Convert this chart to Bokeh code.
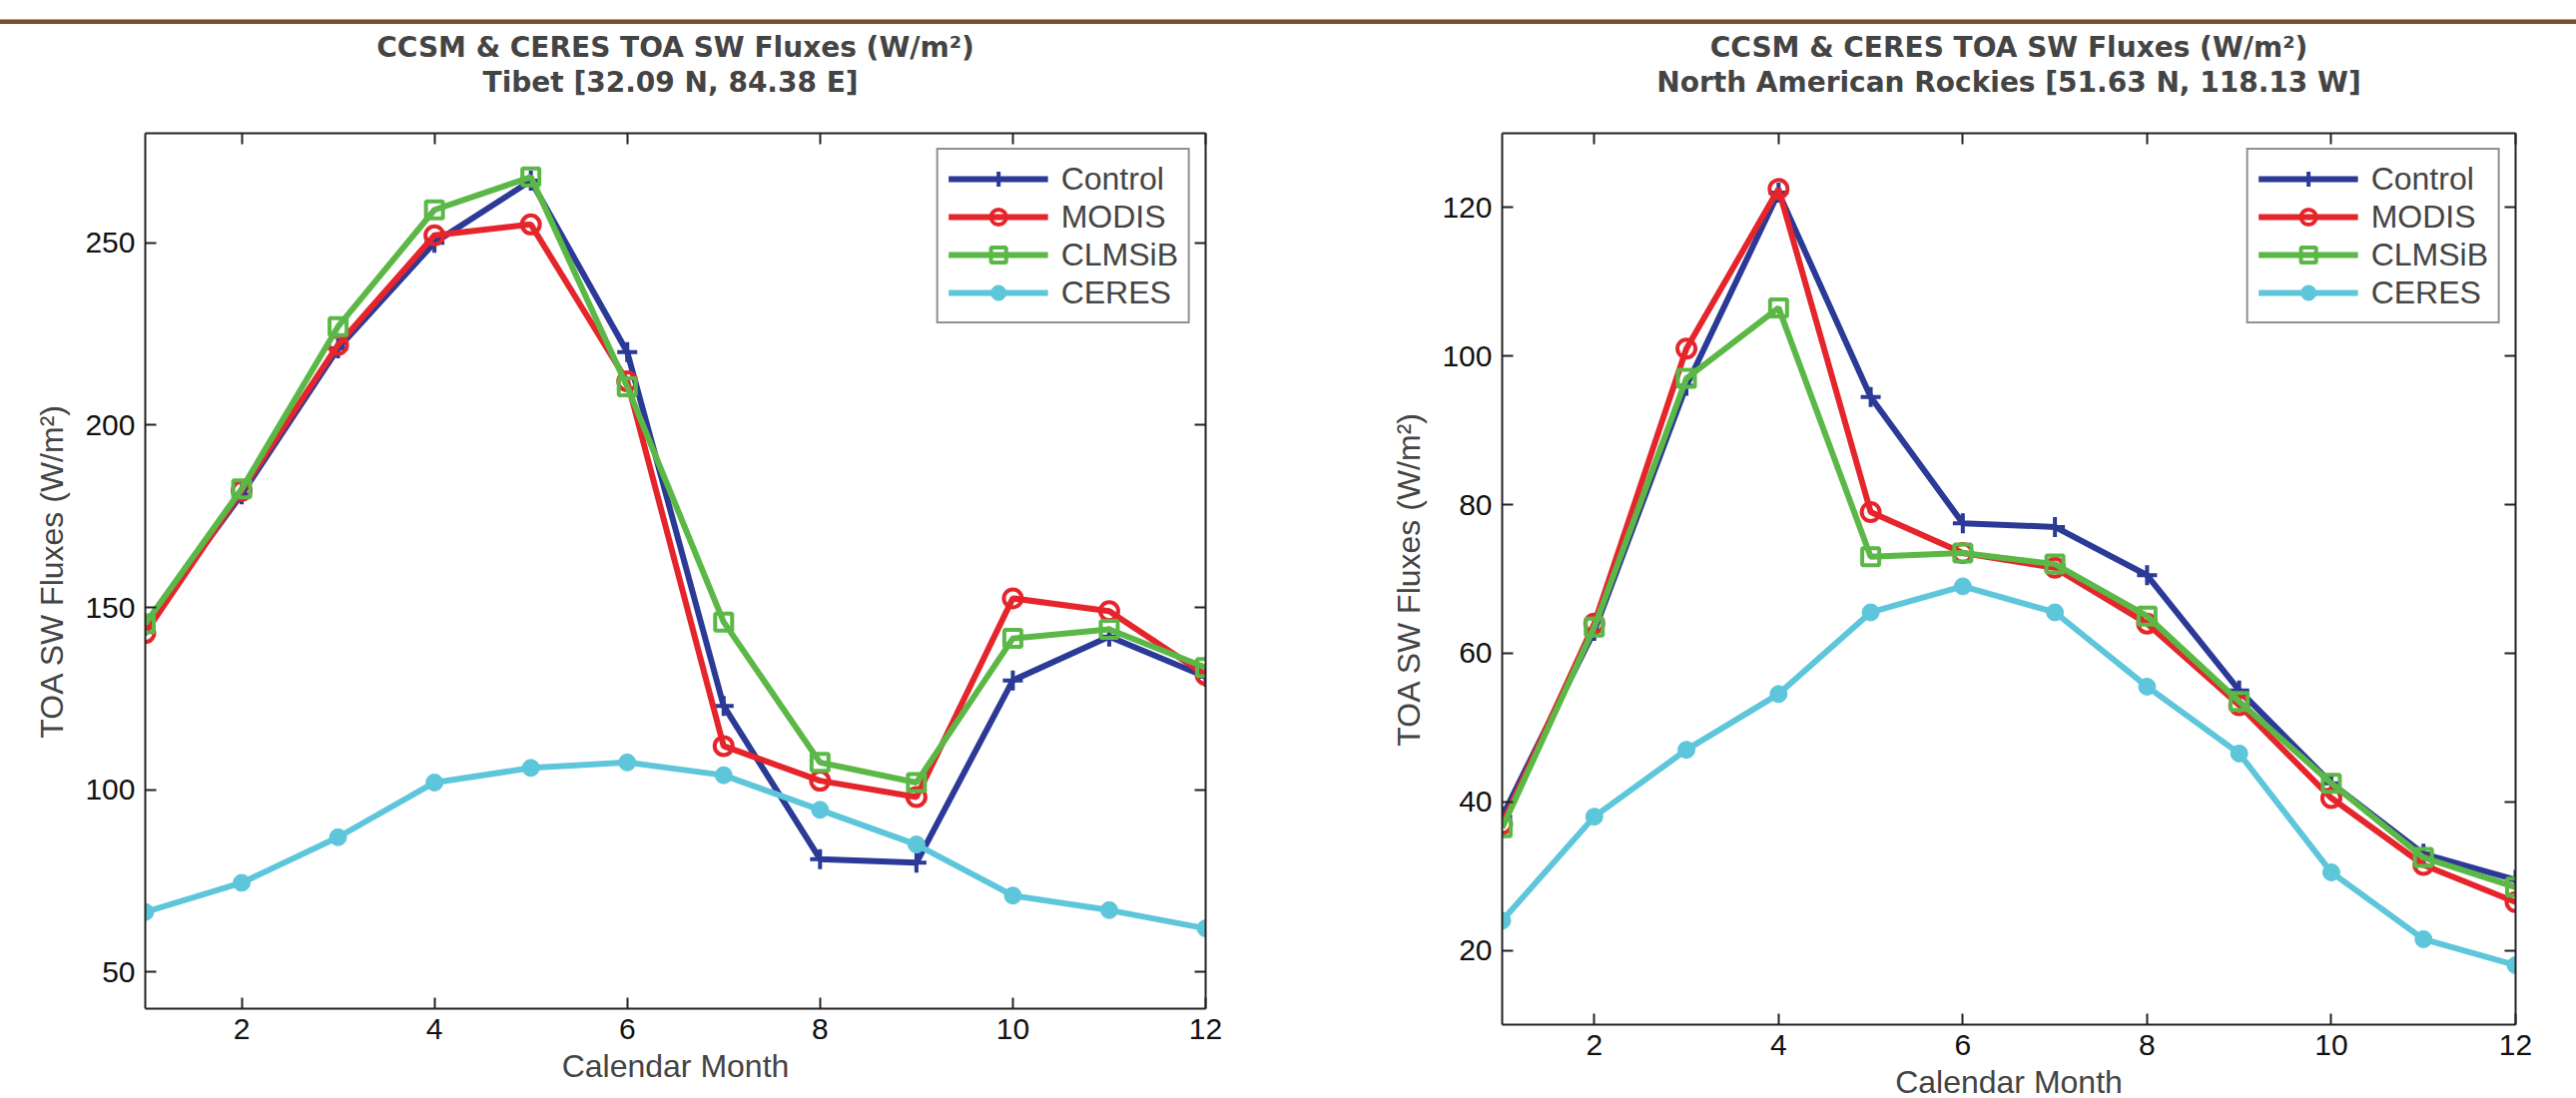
from bokeh.plotting import figure
from bokeh.models import Range1d, LinearAxis, FixedTicker, Title, Spacer, Div
from bokeh.layouts import row, column
from bokeh.embed import file_html
from bokeh.resources import INLINE

months = [1, 2, 3, 4, 5, 6, 7, 8, 9, 10, 11, 12]
series_names = ["Control", "MODIS", "CLMSiB", "CERES"]

# Tibet [32.09 N, 84.38 E]
tibet_control = [145, 181, 221, 250, 267, 220, 123, 81, 80, 130, 142, 131]
tibet_modis = [143, 182, 222, 252, 255, 212, 112, 102.5, 98, 152.5, 149, 131.5]
tibet_clmsib = [145.5, 182.5, 227, 259, 268, 210.5, 146, 107.5, 102, 141.5, 144, 133.5]
tibet_ceres = [66.5, 74.5, 87, 102, 106, 107.5, 104, 94.5, 85, 71, 67, 62]

# North American Rockies [51.63 N, 118.13 W]
rockies_control = [38, 63, 96, 122, 94.5, 77.5, 77, 70.5, 55, 42.5, 33, 29.5]
rockies_modis = [37, 64, 101, 122.5, 79, 73.5, 71.5, 64, 53, 40.5, 31.5, 26.5]
rockies_clmsib = [36.5, 63.5, 97, 106.5, 73, 73.5, 72, 65, 53.5, 42.5, 32.5, 28.5]
rockies_ceres = [24, 38, 47, 54.5, 65.5, 69, 65.5, 55.5, 46.5, 30.5, 21.5, 18]

x_ticks = [2, 4, 6, 8, 10, 12]
tibet_y_ticks = [50, 100, 150, 200, 250]
rockies_y_ticks = [20, 40, 60, 80, 100, 120]

title_line1 = "CCSM & CERES TOA SW Fluxes (W/m\u00b2)"
tibet_title = "Tibet [32.09 N,  84.38 E]"
rockies_title = "North American Rockies [51.63 N, 118.13 W]"
y_label = "TOA SW Fluxes (W/m\u00b2)"
x_label = "Calendar Month"

COLORS = {"Control": "#2b3a96", "MODIS": "#e5252b", "CLMSiB": "#5bb847", "CERES": "#5ec6da"}
FONT = "Liberation Sans"
TITLE_FONT = "DejaVu Sans"
AXIS_COLOR = "#222222"


def style_axis(ax, show_labels=True):
    ax.major_tick_in = 11
    ax.major_tick_out = 0
    ax.minor_tick_in = 0
    ax.minor_tick_out = 0
    ax.minor_tick_line_color = None
    ax.axis_line_width = 2
    ax.axis_line_color = AXIS_COLOR
    ax.major_tick_line_width = 2
    ax.major_tick_line_color = AXIS_COLOR
    ax.major_label_text_font = FONT
    ax.major_label_text_color = "#111111"
    if show_labels:
        ax.major_label_text_font_size = "30px"
    else:
        ax.major_label_text_font_size = "0px"
        ax.major_label_text_alpha = 0
        ax.major_label_standoff = 0


def make_plot(subtitle, ydata, yrange, yticks, borders, w, h):
    left, right, top, bottom = borders
    p = figure(width=w, height=h, x_range=Range1d(1, 12), y_range=Range1d(*yrange),
               output_backend="svg", toolbar_location=None,
               width_policy="fixed", height_policy="fixed",
               min_border_left=left, min_border_right=right,
               min_border_top=top, min_border_bottom=bottom)
    p.xgrid.grid_line_color = None
    p.ygrid.grid_line_color = None
    p.outline_line_color = None
    p.background_fill_color = "white"
    p.border_fill_color = "white"

    p.xaxis.ticker = FixedTicker(ticks=x_ticks)
    p.yaxis.ticker = FixedTicker(ticks=yticks)
    for ax in p.xaxis:
        style_axis(ax)
        ax.major_label_standoff = 10
        ax.axis_label = x_label
        ax.axis_label_text_font = FONT
        ax.axis_label_text_font_style = "normal"
        ax.axis_label_text_font_size = "32px"
        ax.axis_label_standoff = 6
    for ax in p.yaxis:
        style_axis(ax)
        ax.major_label_standoff = 10
        ax.axis_label = y_label
        ax.axis_label_text_font = FONT
        ax.axis_label_text_font_style = "normal"
        ax.axis_label_text_font_size = "32px"
        ax.axis_label_standoff = 12

    top_ax = LinearAxis(ticker=FixedTicker(ticks=x_ticks))
    style_axis(top_ax, show_labels=False)
    p.add_layout(top_ax, "above")
    right_ax = LinearAxis(ticker=FixedTicker(ticks=yticks))
    style_axis(right_ax, show_labels=False)
    p.add_layout(right_ax, "right")

    # invisible spacer between the subtitle and the frame
    p.add_layout(Title(text=" ", text_font_size="1px", standoff=32), "above")
    p.add_layout(Title(text=subtitle, align="center", text_font=TITLE_FONT,
                       text_font_size="28px", text_font_style="bold", standoff=0), "above")
    p.add_layout(Title(text=title_line1, align="center", text_font=TITLE_FONT,
                       text_font_size="28px", text_font_style="bold", standoff=0), "above")

    c, m, g, ce = ydata
    p.line(months, c, color=COLORS["Control"], line_width=6, legend_label="Control")
    p.scatter(months, c, marker="cross", size=20, line_color=COLORS["Control"], line_width=4,
              legend_label="Control")
    p.line(months, m, color=COLORS["MODIS"], line_width=6, legend_label="MODIS")
    p.scatter(months, m, marker="circle", size=18, line_color=COLORS["MODIS"], fill_color=None,
              line_width=4, legend_label="MODIS")
    p.line(months, g, color=COLORS["CLMSiB"], line_width=6, legend_label="CLMSiB")
    p.scatter(months, g, marker="square", size=17, line_color=COLORS["CLMSiB"], fill_color=None,
              line_width=4, legend_label="CLMSiB")
    p.line(months, ce, color=COLORS["CERES"], line_width=6, legend_label="CERES")
    p.scatter(months, ce, marker="circle", size=17, line_color=COLORS["CERES"],
              fill_color=COLORS["CERES"], legend_label="CERES")

    lg = p.legend[0]
    lg.location = "top_right"
    lg.margin = 15
    lg.padding = 10
    lg.spacing = 0
    lg.glyph_width = 100
    lg.glyph_height = 38
    lg.label_height = 38
    lg.label_standoff = 13
    lg.label_text_font = FONT
    lg.label_text_font_size = "32px"
    lg.border_line_color = AXIS_COLOR
    lg.border_line_width = 2
    lg.background_fill_alpha = 1
    return p


p1 = make_plot(tibet_title, (tibet_control, tibet_modis, tibet_clmsib, tibet_ceres),
               (40, 280), tibet_y_ticks, (145, 83, 108, 88), 1290, 1076)
p2 = make_plot(rockies_title, (rockies_control, rockies_modis, rockies_clmsib, rockies_ceres),
               (10, 130), rockies_y_ticks, (214, 61, 109, 90), 1290, 1092)

top_space = Spacer(width=2580, height=19, margin=0)
bar = Div(text="", width=2580, height=5, margin=0,
          styles={"background-color": "#7a4f2b", "border-top": "1px solid #b99a7c",
                  "box-sizing": "border-box"})
plots = row(p1, p2, spacing=0, width=2580, height=1076,
            styles={"overflow": "hidden", "align-items": "start"})
layout = column(top_space, bar, plots, spacing=0)

open("out.html", "w").write(file_html(layout, INLINE))
